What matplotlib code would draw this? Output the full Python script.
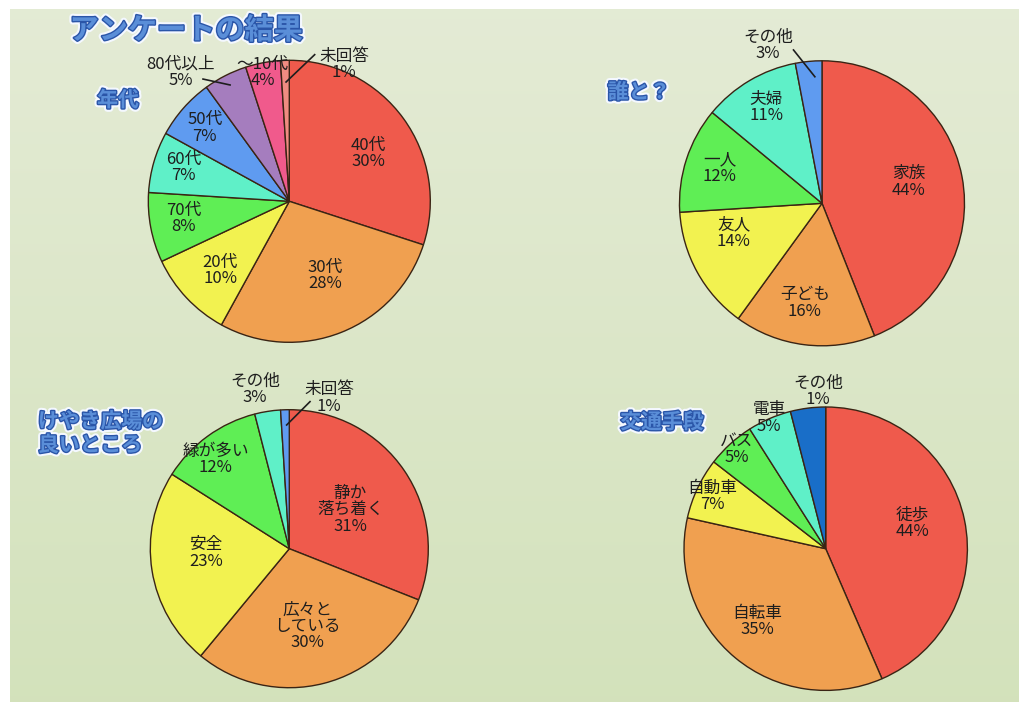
import numpy as np
import matplotlib
matplotlib.use("Agg")
import matplotlib.pyplot as plt
import matplotlib.patheffects as pe

plt.rcParams['font.family'] = ['Noto Sans CJK JP', 'DejaVu Sans']

# --- data ---
age_names = ['40代', '30代', '20代', '70代', '60代', '50代', '80代以上', '～10代', '未回答']
age_values = [30, 28, 10, 8, 7, 7, 5, 4, 1]

with_names = ['家族', '子ども', '友人', '一人', '夫婦', 'その他']
with_values = [44, 16, 14, 12, 11, 3]

good_names = ['静か\n落ち着く', '広々と\nしている', '安全', '緑が多い', 'その他', '未回答']
good_values = [31, 30, 23, 12, 3, 1]

trans_names = ['徒歩', '自転車', '自動車', 'バス', '電車', 'その他']
trans_values = [43.5, 35, 7, 5.5, 5, 4]          # wedge sizes as drawn
trans_pct = [44, 35, 7, 5, 5, 1]                  # percentages as printed

RED, ORANGE, YELLOW, GREEN = '#ef5a4c', '#f0a050', '#f2f250', '#5fee55'
AQUA, BLUE, PURPLE, PINK, SALMON = '#5ff0c8', '#5f9bf0', '#a57dbe', '#f05a8c', '#f08c82'
DARKBLUE = '#196ec8'

W, H = 1019, 702
fig = plt.figure(figsize=(W / 100, H / 100), dpi=100)

# background gradient
bg = fig.add_axes([0, 0, 1, 1])
bg.set_xlim(0, W)
bg.set_ylim(H, 0)
bg.axis('off')
grad = np.linspace(0, 1, 256).reshape(-1, 1)
top = np.array([0.894, 0.922, 0.835])
bot = np.array([0.828, 0.886, 0.735])
img = top + (bot - top) * grad[..., None]
bg.imshow(img, extent=[10, W, H, 9], aspect='auto', zorder=0)


def pie(cx, cy, R, values, colors, labels, layout, leaders):
    s = 1.5
    ax = fig.add_axes([(cx - s * R) / W, 1 - (cy + s * R) / H, 2 * s * R / W, 2 * s * R / H])
    ax.pie(values, colors=colors, startangle=90, counterclock=False, radius=1,
           wedgeprops=dict(edgecolor='#3a2414', linewidth=1.0))
    ax.set_xlim(-s, s)
    ax.set_ylim(-s, s)
    ax.axis('off')
    for text, (x, y) in zip(labels, layout):
        ax.text(x, y, text, ha='center', va='center', fontsize=12,
                color='#1e1e1e', linespacing=0.95, zorder=5)
    for (x0, y0), (x1, y1) in leaders:
        ax.plot([x0, x1], [y0, y1], color='#1e1e1e', lw=1.2, zorder=4)
    return ax


def heading(x, y, text, size, ha='center'):
    fig.text(x / W, 1 - y / H, text, ha=ha, va='center', fontsize=size,
             fontweight='bold', color='#5a8ed8', linespacing=1.15,
             path_effects=[pe.Stroke(linewidth=5, foreground='#f4f8ff'),
                           pe.Stroke(linewidth=2, foreground='#2a55a8'),
                           pe.Normal()])


# 年代
age_labels = [f'{n}\n{v}%' for n, v in zip(age_names, age_values)]
pie(289.3, 201.3, 141, age_values,
    [RED, ORANGE, YELLOW, GREEN, AQUA, BLUE, PURPLE, PINK, SALMON],
    age_labels,
    [(0.56, 0.34), (0.255, -0.525), (-0.49, -0.49), (-0.75, -0.12), (-0.75, 0.24),
     (-0.6, 0.52), (-0.77, 0.915), (-0.19, 0.915), (0.39, 0.97)],
    [((-0.42, 0.825), (-0.612, 0.867)), ((-0.023, 0.846), (0.18, 1.04))])

# 誰と？
with_labels = [f'{n}\n{v}%' for n, v in zip(with_names, with_values)]
pie(822, 203.3, 142.5, with_values, [RED, ORANGE, YELLOW, GREEN, AQUA, BLUE],
    with_labels,
    [(0.61, 0.15), (-0.12, -0.70), (-0.62, -0.21), (-0.72, 0.245), (-0.39, 0.67),
     (-0.38, 1.11)],
    [((-0.05, 0.888), (-0.2, 1.076))])

# 良いところ
good_labels = [f'{n}\n{v}%' for n, v in zip(good_names, good_values)]
pie(289.3, 548.7, 139, good_values, [RED, ORANGE, YELLOW, GREEN, AQUA, BLUE],
    good_labels,
    [(0.44, 0.28), (0.13, -0.56), (-0.6, -0.03), (-0.53, 0.64), (-0.247, 1.145),
     (0.286, 1.084)],
    [((-0.019, 0.89), (0.149, 1.058))])

# 交通手段
trans_labels = [f'{n}\n{v}%' for n, v in zip(trans_names, trans_pct)]
pie(825.7, 548.7, 141.7, trans_values, [RED, ORANGE, YELLOW, GREEN, AQUA, DARKBLUE],
    trans_labels,
    [(0.61, 0.18), (-0.48, -0.515), (-0.80, 0.367), (-0.63, 0.70), (-0.40, 0.922),
     (-0.054, 1.113)],
    [])

heading(186, 30, 'アンケートの結果', 21)
heading(118, 100, '年代', 15)
heading(639, 92, '誰と？', 15)
heading(38, 433, 'けやき広場の\n良いところ', 15, ha='left')
heading(662, 422, '交通手段', 15)

fig.savefig('out.png', dpi=100)
